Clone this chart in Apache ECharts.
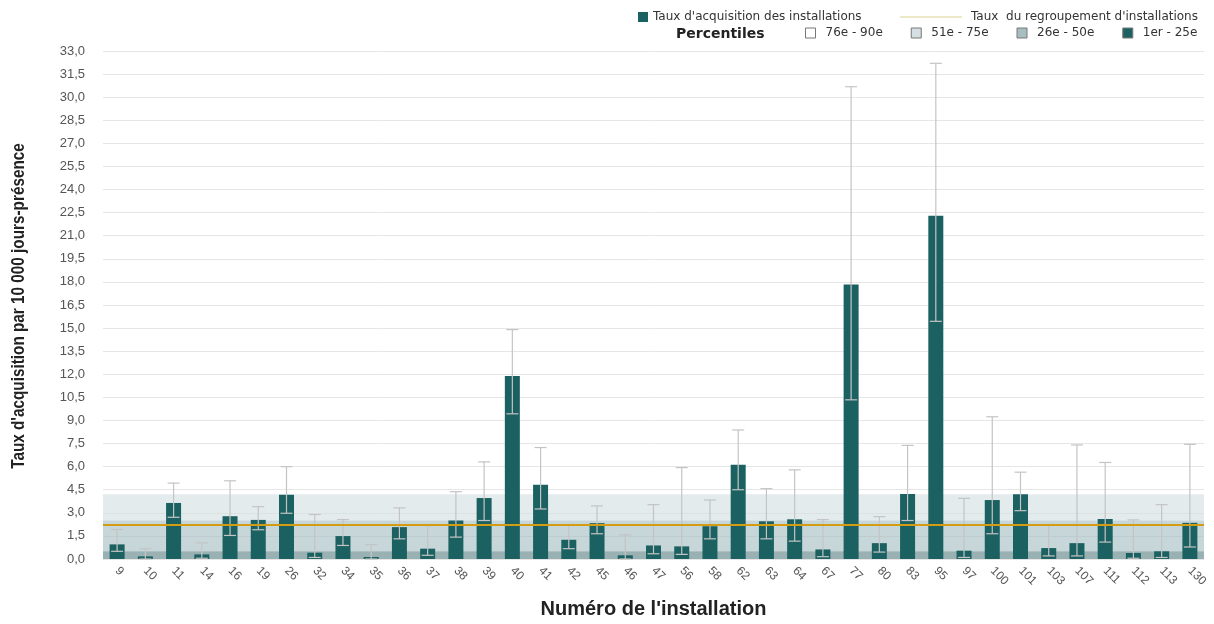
<!DOCTYPE html>
<html>
<head>
<meta charset="utf-8">
<script src="https://cdn.jsdelivr.net/npm/echarts@6/dist/echarts.min.js"></script>
<style>
html,body{margin:0;padding:0;background:#fff;}
#c{width:1214px;height:624px;}
</style>
</head>
<body>
<div id="c"></div>
<script>
// ---- data ----
var categories = ['9','10','11','14','16','19','26','32','34','35','36','37','38','39','40','41','42','45','46','47','56','58','62','63','64','67','77','80','83','95','97','100','101','103','107','111','112','113','130'];
var rates = [0.95,0.17,3.64,0.30,2.78,2.54,4.18,0.41,1.49,0.13,2.07,0.67,2.50,3.96,11.89,4.82,1.25,2.33,0.24,0.88,0.82,2.13,6.12,2.45,2.58,0.62,17.83,1.03,4.22,22.29,0.54,3.83,4.20,0.71,1.03,2.60,0.39,0.50,2.35];
var upperCI = [1.92,0.67,4.93,1.05,5.08,3.40,6.00,2.89,2.56,0.93,3.32,2.17,4.37,6.31,14.90,7.24,2.24,3.45,1.57,3.53,5.94,3.83,8.38,4.57,5.79,2.56,30.68,2.75,7.38,32.20,3.94,9.24,5.64,2.24,7.41,6.27,2.54,3.53,7.45];
var lowerCI = [0.50,0.00,2.71,0.05,1.53,1.90,2.97,0.10,0.88,0.00,1.31,0.24,1.42,2.50,9.43,3.25,0.67,1.64,0.00,0.34,0.30,1.31,4.50,1.31,1.16,0.15,10.34,0.45,2.50,15.44,0.10,1.64,3.14,0.20,0.20,1.10,0.05,0.10,0.78];
var groupRate = 2.22;
var bandNames = ['76e - 90e','51e - 75e','26e - 50e','1er - 25e'];
var bandLow  = [4.2, 2.5, 0.5, 0.0];
var bandHigh = [6.0, 4.2, 2.5, 0.5];
var yTicks = {min:0, max:33, interval:1.5};

var barName = "Taux d'acquisition des installations";
var lineName = "Taux  du regroupement d'installations";
var xTitle = "Numéro de l'installation";
var yTitle = "Taux d'acquisition par 10 000 jours-présence";

var FONT = '"Liberation Sans", Arial, sans-serif';
var LEGFONT = '"DejaVu Sans", "Liberation Sans", sans-serif';

var bandFill = ['rgba(255,255,255,0)','rgba(214,225,228,0.65)','rgba(160,186,192,0.6)','rgba(105,140,143,0.68)'];
var bandIcon = ['#ffffff','#d6e0e2','#a7bec1','#1d6262'];

var chart = echarts.init(document.getElementById('c'), null, {renderer:'canvas'});

var errData = categories.map(function(c,i){ return [i, lowerCI[i], upperCI[i]]; });

var series = [];
bandNames.forEach(function(n,i){
  series.push({
    name:n, type:'line', data:[], symbol:'none', silent:true,
    itemStyle:{color:bandIcon[i], borderColor:'#888', borderWidth:1},
    lineStyle:{width:0},
    z:1,
    markArea:{silent:true, itemStyle:{color:bandFill[i]}, data:[[{yAxis:bandLow[i]},{yAxis:bandHigh[i]}]]}
  });
});
series.push({
  name:barName, type:'bar', data:rates, barWidth:15, z:3,
  itemStyle:{color:'#1c6161'}
});
series.push({
  type:'custom', name:'err', z:4, silent:true,
  data:errData,
  renderItem:function(params, api){
    var x = api.value(0);
    var lo = api.coord([x, api.value(1)]);
    var hi = api.coord([x, api.value(2)]);
    var hw = 6;
    var st = {stroke:'#c4c4c4', lineWidth:1.2};
    return {type:'group', children:[
      {type:'line', shape:{x1:lo[0],y1:lo[1],x2:hi[0],y2:hi[1]}, style:st},
      {type:'line', shape:{x1:hi[0]-hw,y1:hi[1],x2:hi[0]+hw,y2:hi[1]}, style:st},
      {type:'line', shape:{x1:lo[0]-hw,y1:lo[1],x2:lo[0]+hw,y2:lo[1]}, style:st}
    ]};
  }
});
series.push({
  name:lineName, type:'line', data:[], symbol:'none', z:5,
  lineStyle:{color:'#d49c12', width:2}, itemStyle:{color:'#d49c12'},
  markLine:{silent:true, symbol:'none', label:{show:false}, z:6,
    lineStyle:{color:'#d49c12', width:2, type:'solid', opacity:1},
    data:[{yAxis:groupRate}]}
});

var option = {
  animation:false,
  backgroundColor:'#fff',
  textStyle:{fontFamily:FONT},
  grid:{left:103, right:10, top:51, bottom:62, containLabel:false},
  legend:[
    {data:[barName], left:633, top:6, itemWidth:10, itemHeight:10, icon:'rect', itemGap:10,
     textStyle:{fontSize:12, color:'#333', fontFamily:LEGFONT}, selectedMode:false},
    {data:[{name:lineName, icon:'rect', itemStyle:{color:'#ece8c8', borderWidth:0}}], left:895, top:6, itemWidth:62, itemHeight:2,
     textStyle:{fontSize:12, color:'#333', fontFamily:LEGFONT, padding:[0,0,0,4]}, selectedMode:false},
    {data:bandNames.map(function(n,i){return {name:n, icon:'rect', itemStyle:{color:bandIcon[i], borderColor:'#777', borderWidth:1}};}),
     left:805, top:27, width:409, padding:0, itemWidth:10, itemHeight:10, itemGap:28,
     textStyle:{fontSize:12, color:'#333', fontFamily:LEGFONT, padding:[0,0,0,5]}, selectedMode:false}
  ],
  graphic:[
    {type:'text', left:676, top:27, style:{text:'Percentiles', font:'bold 14px '+LEGFONT, fill:'#222'}},
    {type:'text', x:19, y:306, rotation:Math.PI/2, scaleX:0.85,
     style:{text:yTitle, font:'bold 18px '+FONT, fill:'#222', align:'center', verticalAlign:'middle'}}
  ],
  xAxis:{
    type:'category', data:categories,
    axisLine:{show:false}, axisTick:{show:false},
    axisLabel:{interval:0, rotate:-45, fontSize:12, color:'#555', margin:10, fontFamily:FONT},
    name:xTitle, nameLocation:'middle', nameGap:40,
    nameTextStyle:{fontSize:20, fontWeight:'bold', color:'#222', fontFamily:FONT}
  },
  yAxis:{
    type:'value', min:yTicks.min, max:yTicks.max, interval:yTicks.interval,
    axisLine:{show:false}, axisTick:{show:false},
    splitLine:{lineStyle:{color:'#e6e6e6', width:1}},
    axisLabel:{fontSize:13, color:'#555', margin:18, fontFamily:FONT,
      formatter:function(v){return v.toFixed(1).replace('.',',');}}
  },
  series:series
};
chart.setOption(option);
</script>
</body>
</html>
